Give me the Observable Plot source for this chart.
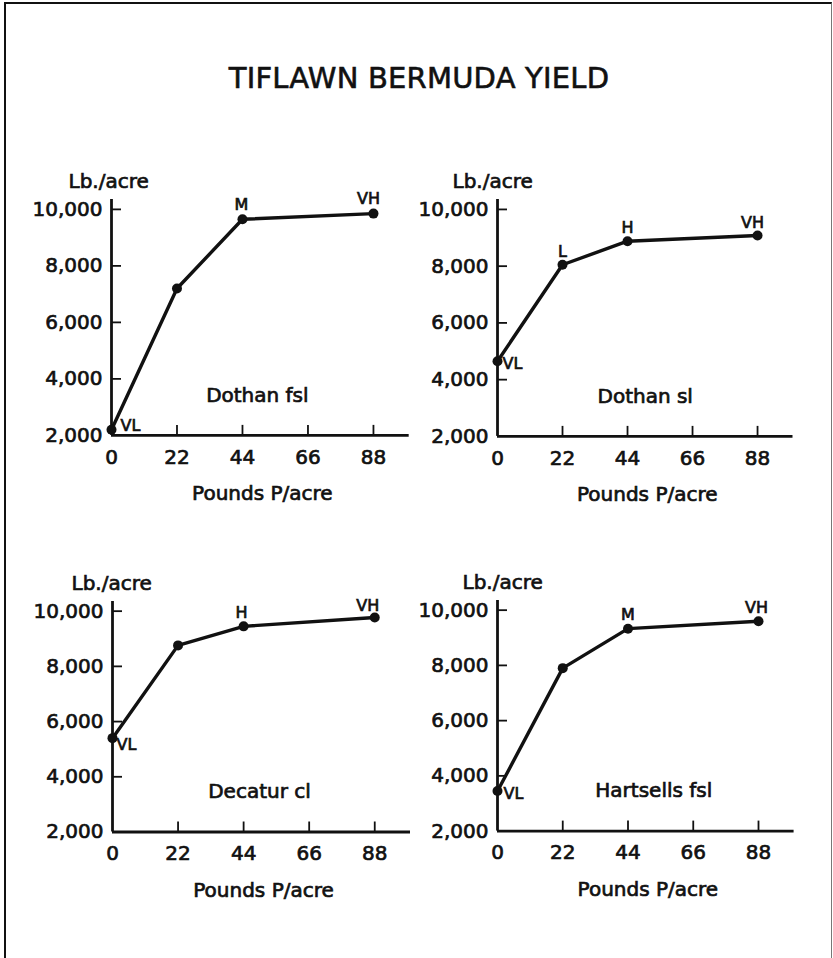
<!DOCTYPE html>
<html>
<head>
<meta charset="utf-8">
<script src="https://cdn.jsdelivr.net/npm/d3@7"></script>
<script src="https://cdn.jsdelivr.net/npm/@observablehq/plot@0.6"></script>
<style>
  html, body { margin: 0; padding: 0; background: #fff; }
  #page { position: relative; width: 833px; height: 958px; overflow: hidden; font-family: "DejaVu Sans", sans-serif; color: #111; }
  #frame { position: absolute; left: 4px; top: 2px; width: 825px; height: 980px; border-left: 2px solid #111; border-top: 2px solid #111; border-right: 1.5px solid #777; }
  #title { position: absolute; left: 0; width: 838px; top: 64px; text-align: center; font-size: 29px; line-height: 28px; letter-spacing: 0.2px; -webkit-text-stroke: 0.6px #111; }
  #page svg { position: absolute; }
  #page svg text { stroke: #111; stroke-width: 0.7px; }
</style>
</head>
<body>
<div id="page">
  <div id="frame"></div>
  <div id="title">TIFLAWN BERMUDA YIELD</div>
</div>
<script>
// ---- data ----
const rates = [0, 22, 44, 88];
const xTicks = [0, 22, 44, 66, 88];
const yTicks = [2000, 4000, 6000, 8000, 10000];
const soils = ["Dothan fsl", "Dothan sl", "Decatur cl", "Hartsells fsl"];
const dothanFsl = [2200, 7200, 9650, 9850];
const dothanSl = [4650, 8050, 8880, 9080];
const decaturCl = [5400, 8760, 9450, 9770];
const hartsellsFsl = [3450, 7900, 9330, 9600];
const dothanFslLevels = ["VL", "", "M", "VH"];
const dothanSlLevels = ["VL", "L", "H", "VH"];
const decaturClLevels = ["VL", "", "H", "VH"];
const hartsellsFslLevels = ["VL", "", "M", "VH"];
const yLabel = "Lb./acre";
const xLabel = "Pounds P/acre";

const series = [dothanFsl, dothanSl, decaturCl, hartsellsFsl];
const levels = [dothanFslLevels, dothanSlLevels, decaturClLevels, hartsellsFslLevels];

// ---- layout (pixels) ----
const mL = 100, mR = 20, mT = 50, mB = 85;
const layout = [
  {ox: 111,   plotW: 297.7, top: 199.1, plotH: 235.9, lbDx: -43, nameDx: -3, nameDy: -33, vl: [9, -4],  mid: [-1, -14], vh: [-5, -15]},
  {ox: 497,   plotW: 295.5, top: 199.1, plotH: 236.9, lbDx: -45, nameDx: 0,  nameDy: -33, vl: [5, 3],   mid: [0, -13],  vh: [-5, -13]},
  {ox: 111.5, plotW: 298,   top: 601.0, plotH: 230.5, lbDx: -41, nameDx: -2, nameDy: -34, vl: [4, 7],   mid: [-2, -13], vh: [-7, -12]},
  {ox: 496.7, plotW: 296.6, top: 600.1, plotH: 230.6, lbDx: -35, nameDx: 8,  nameDy: -34, vl: [6, 3],   mid: [0, -14],  vh: [-2, -13]}
];

const page = document.getElementById("page");

layout.forEach((L, i) => {
  const data = rates.map((r, j) => ({rate: r, yield: series[i][j], level: levels[i][j]}));
  const first = data.filter((d, j) => j === 0);
  const mids = data.filter((d, j) => j > 0 && j < data.length - 1 && d.level);
  const last = data.filter((d, j) => j === data.length - 1);
  const svg = Plot.plot({
    width: mL + L.plotW + mR,
    height: mT + L.plotH + mB,
    marginLeft: mL, marginRight: mR, marginTop: mT, marginBottom: mB,
    x: {domain: [0, 100]},
    y: {domain: [2000, 10350]},
    style: {background: "transparent", overflow: "visible", fontFamily: "DejaVu Sans, sans-serif", fontSize: "20px", color: "#111"},
    marks: [
      Plot.axisX({ticks: xTicks, tickSize: 0, tickPadding: 14, label: null, fontSize: 20, tickFormat: d => String(d)}),
      Plot.axisY({ticks: yTicks, tickSize: 0, tickPadding: 9, label: null, fontSize: 20, tickFormat: d3.format(",")}),
      Plot.tickX(xTicks.slice(1), {x: d => d, insetTop: L.plotH - 10, strokeWidth: 1.8}),
      Plot.tickY(yTicks.slice(1), {y: d => d, insetRight: L.plotW - 10, strokeWidth: 1.8}),
      Plot.ruleX([0], {strokeWidth: 2.8}),
      Plot.ruleY([2000], {strokeWidth: 2.8}),
      Plot.line(data, {x: "rate", y: "yield", strokeWidth: 3.4}),
      Plot.dot(data, {x: "rate", y: "yield", r: 5, fill: "currentColor"}),
      Plot.text(first, {x: "rate", y: "yield", text: "level", textAnchor: "start", dx: L.vl[0], dy: L.vl[1], fontSize: 16}),
      Plot.text(mids, {x: "rate", y: "yield", text: "level", dx: L.mid[0], dy: L.mid[1], fontSize: 16}),
      Plot.text(last, {x: "rate", y: "yield", text: "level", dx: L.vh[0], dy: L.vh[1], fontSize: 16}),
      Plot.text([yLabel], {text: d => d, frameAnchor: "top-left", textAnchor: "start", dx: L.lbDx, dy: -26, fontSize: 20}),
      Plot.text([soils[i]], {text: d => d, frameAnchor: "bottom", dx: L.nameDx, dy: L.nameDy, fontSize: 20}),
      Plot.text([xLabel], {text: d => d, frameAnchor: "bottom", dx: 2, dy: 65, fontSize: 20})
    ]
  });
  svg.style.left = (L.ox - mL) + "px";
  svg.style.top = (L.top - mT) + "px";
  page.appendChild(svg);
});
</script>
</body>
</html>
